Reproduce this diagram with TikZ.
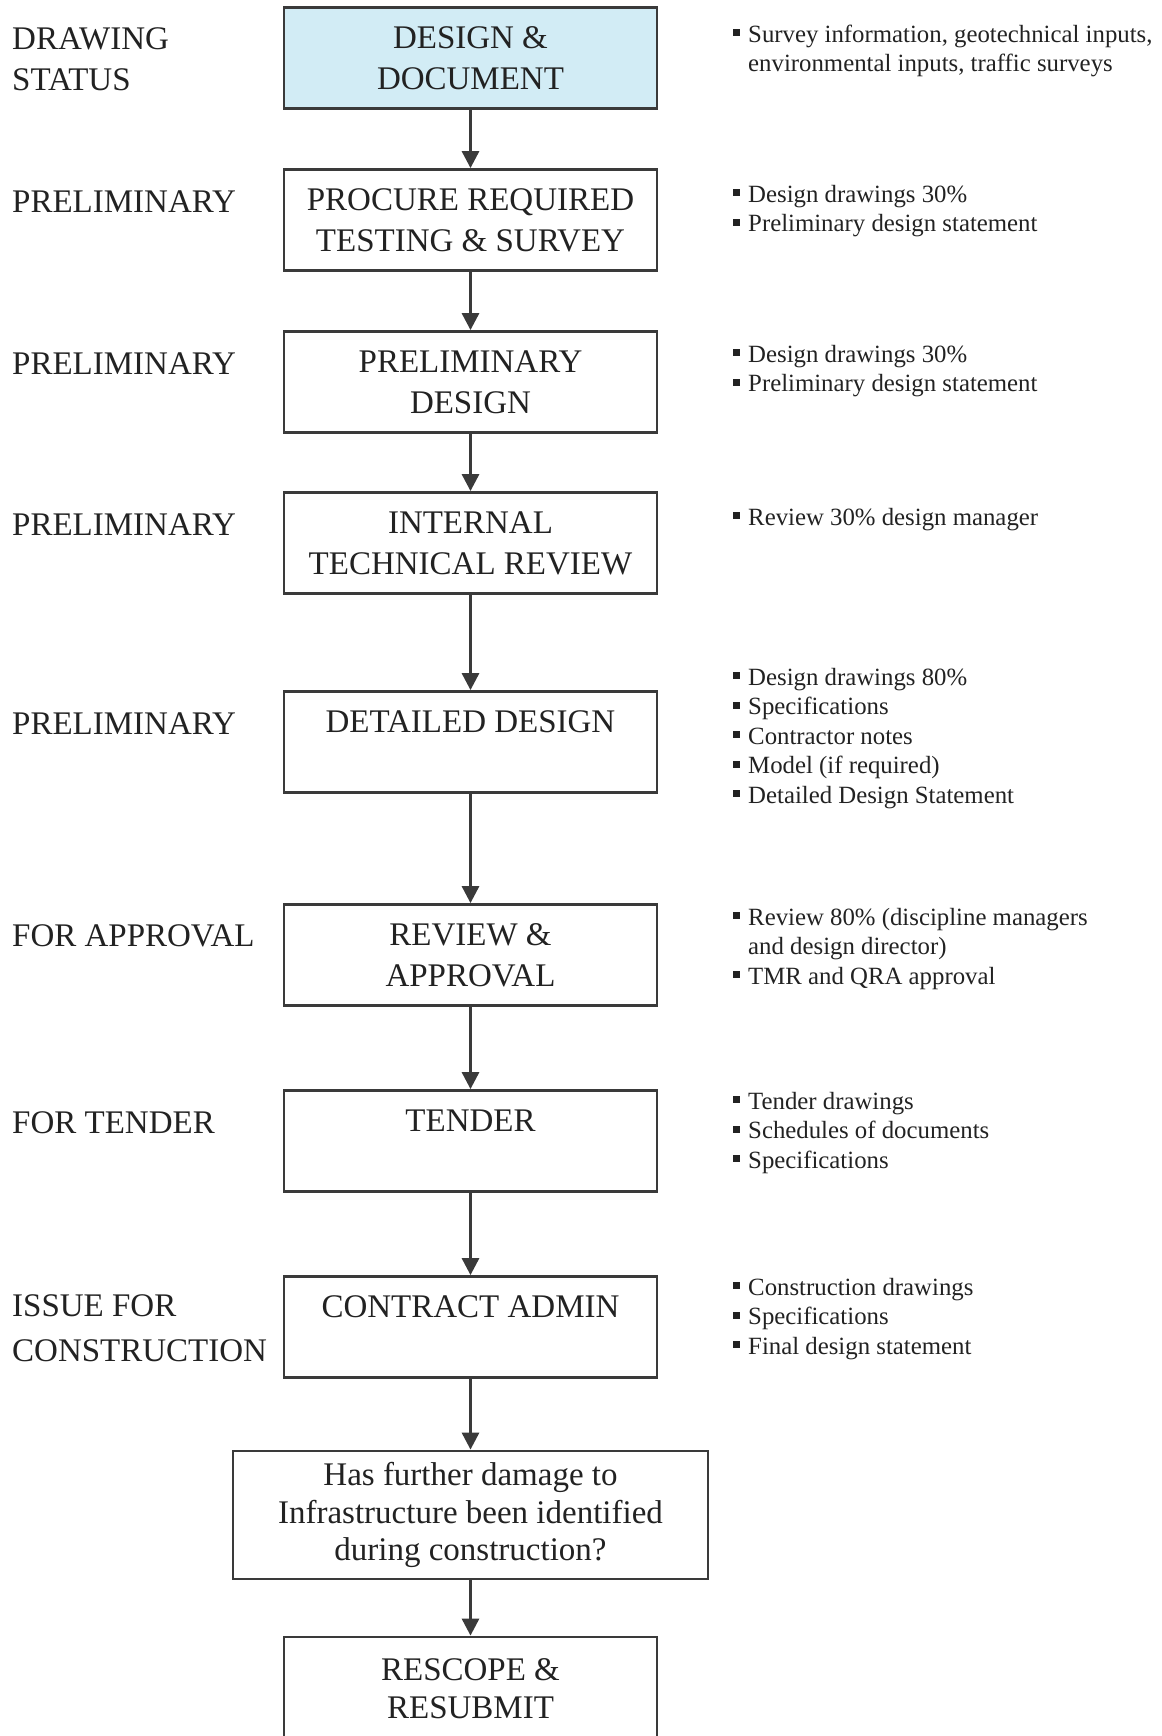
\documentclass[tikz,border=0pt]{standalone}
\usepackage{fontspec}
\setmainfont{Liberation Serif}
\usetikzlibrary{arrows.meta}
\definecolor{inkgray}{HTML}{222222}
\definecolor{linegray}{HTML}{3A3A3A}
\definecolor{stagefill}{HTML}{D2ECF5}
\newcommand{\sqbullet}{\strut\makebox[15pt][l]{\rule[6pt]{7pt}{7pt}}}
\newcommand{\hangsp}{\hspace*{15pt}}
\begin{document}
\begin{tikzpicture}[x=1pt,y=-1pt,
  stage/.style={draw=linegray,line width=2.8pt,minimum width=373pt,minimum height=101pt,
    align=center,text=inkgray,font=\fontsize{33}{41}\selectfont},
  status/.style={anchor=north west,inner sep=0pt,align=left,text=inkgray,font=\fontsize{33}{41}\selectfont},
  notes/.style={anchor=north west,inner sep=0pt,align=left,text=inkgray,font=\fontsize{24.8}{29.5}\selectfont},
  flow/.style={-{Triangle[width=17pt,length=17pt]},line width=3pt,draw=linegray}]

  \useasboundingbox (0,0) rectangle (1161,1736);

  \node[stage,fill=stagefill] (dd) at (470.5,58.4) {DESIGN \&\\DOCUMENT};
  \node[stage] (prc) at (470.5,220) {PROCURE REQUIRED\\TESTING \& SURVEY};
  \node[stage] (pd) at (470.5,382) {PRELIMINARY\\DESIGN};
  \node[stage] (itr) at (470.5,543) {INTERNAL\\TECHNICAL REVIEW};
  \node[stage] (det) at (470.5,742) {DETAILED DESIGN\\~};
  \node[stage] (rev) at (470.5,955) {REVIEW \&\\APPROVAL};
  \node[stage] (tnd) at (470.5,1141) {TENDER\\~};
  \node[stage] (ca) at (470.5,1327) {CONTRACT ADMIN\\~};
  \node[stage,minimum width=475pt,minimum height=128pt,font=\fontsize{33}{37.5}\selectfont] (q) at (470.5,1515)
    {Has further damage to\\Infrastructure been identified\\during construction?};
  \node[stage,minimum height=104pt,font=\fontsize{33}{38}\selectfont] (rs) at (470.5,1689) {RESCOPE \&\\RESUBMIT};

  \foreach \a/\b in {dd/prc,prc/pd,pd/itr,itr/det,det/rev,rev/tnd,tnd/ca,ca/q,q/rs}
    {\draw[flow] (\a) -- (\b);}

  \node[status] (sdraw) at (12,20.3) {\strut DRAWING\\STATUS};
  \node[status] (sprc) at (12,183.3) {\strut PRELIMINARY};
  \node[status] (spd) at (12,345.3) {\strut PRELIMINARY};
  \node[status] (sitr) at (12,506.3) {\strut PRELIMINARY};
  \node[status] (sdet) at (12,705.3) {\strut PRELIMINARY};
  \node[status] (srev) at (12,917.3) {\strut FOR APPROVAL};
  \node[status] (stnd) at (12,1104.3) {\strut FOR TENDER};
  \node[status,font=\fontsize{33}{45}\selectfont] (sca) at (12,1285.2) {\strut ISSUE FOR\\CONSTRUCTION};

  \node[notes] (ndd) at (733,21.4) {\sqbullet Survey information, geotechnical inputs,\\\hangsp environmental inputs, traffic surveys};
  \node[notes] (nprc) at (733,181.4) {\sqbullet Design drawings 30\%\\\sqbullet Preliminary design statement};
  \node[notes] (npd) at (733,341.4) {\sqbullet Design drawings 30\%\\\sqbullet Preliminary design statement};
  \node[notes] (nitr) at (733,504.4) {\sqbullet Review 30\% design manager};
  \node[notes] (ndet) at (733,664.4) {\sqbullet Design drawings 80\%\\\sqbullet Specifications\\\sqbullet Contractor notes\\
    \sqbullet Model (if required)\\\sqbullet Detailed Design Statement};
  \node[notes] (nrev) at (733,904.4) {\sqbullet Review 80\% (discipline managers\\\hangsp and design director)\\
    \sqbullet TMR and QRA approval};
  \node[notes] (ntnd) at (733,1088.4) {\sqbullet Tender drawings\\\sqbullet Schedules of documents\\\sqbullet Specifications};
  \node[notes] (nca) at (733,1274.4) {\sqbullet Construction drawings\\\sqbullet Specifications\\\sqbullet Final design statement};
\end{tikzpicture}
\end{document}
